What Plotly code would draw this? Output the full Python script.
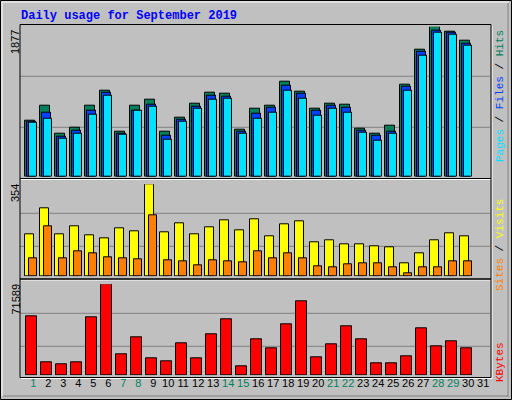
import plotly.graph_objects as go

days = list(range(1, 31))
hits = [705,883,539,616,883,1074,565,883,960,565,743,909,1049,1036,590,845,883,1189,1062,845,909,896,603,539,641,1151,1584,1877,1813,1699]
files = [692,807,501,578,832,1049,539,832,896,514,718,871,1011,998,565,794,858,1138,1036,820,883,858,578,514,565,1125,1559,1826,1801,1661]
pages = [680,730,476,539,781,1011,527,820,871,463,692,845,960,973,539,730,807,1074,973,769,845,807,552,450,539,1074,1508,1801,1775,1635]
visits = [162,262,162,192,158,146,185,173,354,169,204,162,189,215,177,219,154,200,212,131,139,123,123,115,112,50,88,139,165,154]
sites = [69,192,69,96,88,73,69,65,235,62,58,42,62,58,54,96,69,88,69,38,35,46,50,50,35,12,35,35,58,58]
kbytes = [46410,10226,8653,10226,45623,71589,16519,29891,13372,11012,25171,13372,32251,44050,7079,28318,21238,40117,58208,14159,24385,38543,28318,9439,9439,14945,36970,22811,26744,21238]
day_labels = [str(d) for d in range(1, 32)]
weekend = {1,7,8,14,15,21,22,28,29}
max_hits, max_visits, max_kb = 1877, 354, 71589

W, H = 512, 400
def fy(py): return 1 - py / H
def fx(px): return px / W

fig = go.Figure()
ln = dict(color="black", width=1)
def bar(y, color, off, wid, ax):
    fig.add_trace(go.Bar(x=days, y=y, marker=dict(color=color, line=ln), offset=off, width=wid, cliponaxis=False,
                         xaxis="x" if ax == "y" else "x" + ax[1:], yaxis=ax, showlegend=False, hoverinfo="skip"))

bar(hits, "#00805c", 0.0, 0.62, "y")
bar(files, "#0040ff", 0.133, 0.56, "y")
bar(pages, "#00e0ff", 0.267, 0.49, "y")
bar(visits, "#ffff00", 0.0, 0.56, "y2")
bar(sites, "#ff8000", 0.267, 0.49, "y2")
bar(kbytes, "#ff0000", 0.067, 0.69, "y3")

r0 = 0.65
xr = [r0, r0 + 471 / 15]
xdom = [fx(20), fx(491)]
xa = dict(range=xr, domain=xdom, showgrid=False, zeroline=False, showticklabels=False, fixedrange=True)
tickt = [f'<span style="color:{"#00805c" if int(d) in weekend else "black"}">{d}</span>' for d in day_labels]
fig.update_layout(
    width=W, height=H, margin=dict(l=0, r=0, t=0, b=0),
    paper_bgcolor="#c0c0c0", plot_bgcolor="rgba(0,0,0,0)", barmode="overlay", bargap=0,
    xaxis=dict(xa, anchor="y"),
    xaxis2=dict(xa, anchor="y2", matches="x"),
    xaxis3=dict(xa, anchor="y3", matches="x", showticklabels=True, tickmode="array",
                tickvals=[d + 0.53 for d in range(1, 32)], ticktext=tickt, ticks="",
                tickfont=dict(family="Liberation Sans", size=11, color="black")),
    yaxis=dict(range=[0, max_hits], domain=[fy(176.7), fy(26.7)], visible=False, fixedrange=True),
    yaxis2=dict(range=[0, max_visits], domain=[fy(276.3), fy(184.3)], visible=False, fixedrange=True),
    yaxis3=dict(range=[0, max_kb], domain=[fy(375.3), fy(284.3)], visible=False, fixedrange=True),
)

shapes = []
def line(x0, y0, x1, y1, c, w=1):
    shapes.append(dict(type="line", xref="paper", yref="paper", x0=fx(x0), y0=fy(y0), x1=fx(x1), y1=fy(y1),
                       line=dict(color=c, width=w), layer="below"))
for gy in [76.3, 127.3, 213.3, 246.3, 313.3, 346.3]:
    line(20, gy, 490, gy, "#808080")
for (t, b) in [(24.5, 178.5), (178.5, 279), (279, 377.5)]:
    shapes.append(dict(type="rect", xref="paper", yref="paper", x0=fx(20), x1=fx(491), y0=fy(b), y1=fy(t),
                       line=dict(color="black", width=1)))
    line(21, b + 1, 492, b + 1, "white")
    line(492, t + 1, 492, b + 1, "white")
shapes.append(dict(type="rect", xref="paper", yref="paper", x0=fx(0.5), x1=fx(511.5), y0=fy(399.5), y1=fy(0.5),
                   line=dict(color="black", width=1)))
line(2, 2, 509, 2, "white"); line(2, 2, 2, 396, "white")
line(508, 3, 508, 397, "#808080"); line(3, 396, 508, 396, "#808080")
fig.update_layout(shapes=shapes)

mono = "Liberation Mono"
ann = [
    dict(text="<b>Daily usage for September 2019</b>", x=fx(19), y=fy(16), xanchor="left", yanchor="middle",
         font=dict(family=mono, size=12, color="#0000ff")),
    dict(text=str(max_hits), x=fx(15), y=fy(28), textangle=-90, xanchor="center", yanchor="top",
         font=dict(family="Liberation Sans", size=11, color="black")),
    dict(text=str(max_visits), x=fx(15), y=fy(182), textangle=-90, xanchor="center", yanchor="top",
         font=dict(family="Liberation Sans", size=11, color="black")),
    dict(text=str(max_kb), x=fx(15), y=fy(282), textangle=-90, xanchor="center", yanchor="top",
         font=dict(family="Liberation Sans", size=11, color="black")),
    dict(text='<span style="color:#00e0ff">Pages</span> / <span style="color:#0040ff">Files</span> / <span style="color:#00805c">Hits</span>',
         x=fx(500), y=fy(28), textangle=-90, xanchor="center", yanchor="top", font=dict(family=mono, size=11, color="black")),
    dict(text='<span style="color:#ff8000">Sites</span> / <span style="color:#ffff00">Visits</span>',
         x=fx(500), y=fy(197), textangle=-90, xanchor="center", yanchor="top", font=dict(family=mono, size=11, color="black")),
    dict(text='KBytes', x=fx(500), y=fy(340), textangle=-90, xanchor="center", yanchor="top",
         font=dict(family=mono, size=11, color="#ff0000")),
]
for a in ann:
    a.update(xref="paper", yref="paper", showarrow=False)
fig.update_layout(annotations=ann)
fig.write_html("out.html", config={"displayModeBar": False},
               post_script="document.body.style.margin='0';document.body.style.overflow='hidden';")
